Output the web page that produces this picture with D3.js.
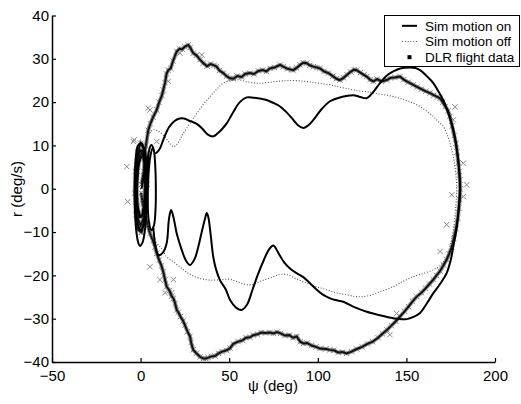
<!DOCTYPE html>
<html>
<head>
<meta charset="utf-8">
<script src="https://d3js.org/d3.v7.min.js"></script>
<style>
  body { margin: 0; background: #fff; }
  text { font-family: "Liberation Sans", Arial, sans-serif; fill: #000; }
</style>
</head>
<body>
<svg id="chart" width="521" height="404"></svg>
<script>
// axis ticks
const xTicks = [-50, 0, 50, 100, 150, 200];
const yTicks = [-40, -30, -20, -10, 0, 10, 20, 30, 40];
const legendLabels = ["Sim motion on", "Sim motion off", "DLR flight data"];

// Sim motion on  [psi (deg), r (deg/s)]
const simOn = [
  [0.5,0],[2,3.5],[2.3,6.5],[1,7.5],[-0.8,6],[-1.8,2],[-2,-2],[-1.2,-5],[0.3,-6.5],[1.8,-5],
  [2.6,-1.5],[2.9,2.5],[2.5,6.5],[1,8.8],[-1,8.3],[-2.5,5],[-3,0],[-2.8,-4.5],[-1.8,-8],[0,-9.5],
  [1.8,-8],[3,-4],[3.3,1],[3,5.5],[2,9],[0.5,10.5],[-1.5,10],[-2.8,6.5],[-3.3,1],[-3.2,-4.5],
  [-2.5,-9.5],[-1.3,-12.5],[-0.3,-13.2],[1,-12.5],[2.3,-10],[3.2,-5],[3.5,0],[3.8,5],[4.6,8.5],[6,10.1],
  [7.4,9],[8.3,5],[8.6,0],[8.4,-5],[7.5,-8.5],[6,-9.5],[4.5,-7],[4,-2],[4.4,3],[5.5,7.5],[7,9.5],[8.1,8.2],
  [10.5,9],[13,11.5],[16,14.2],[19,15.6],[22,16.2],[24.5,16.2],[28,15.6],[31.7,15],[35,13.8],[38,12.5],
  [41,12.1],[43.5,12.8],[46,13.8],[48.6,15.1],[52,17.5],[56,20],[59.9,21.1],[64,21],[68,20.8],[71.2,20.5],
  [75,19.8],[78.7,19],[82,17.8],[86.2,15.9],[89,14.6],[91.8,14],[94.5,14.6],[97.5,15.9],[102,18.3],[106.9,20.2],
  [112,21],[116,21.4],[120,21.6],[124,21.2],[127.6,20.9],[131,22.2],[135.1,24.4],[138.5,26],[142.6,27.1],[147,27.8],
  [152,28],[155,27.9],[157.7,27.4],[161.5,26],[165.2,24.4],[168,22.5],[170.8,20.5],[174,17],[176.5,13.6],[178.3,9.5],
  [179.3,6.7],[180,3],[180.2,0],[179.8,-3],[179.3,-5.6],[178.2,-9.5],[176.5,-13.3],[175,-16.5],[172.7,-19.5],[169,-22],
  [165.2,-24.1],[161.5,-26.5],[157.7,-28.7],[154,-29.6],[150.2,-30.1],[146.5,-30.1],[142.6,-29.9],[135,-29.2],[127.6,-28.4],[120,-27.2],
  [114.4,-26.1],[110,-25.7],[106.9,-25.3],[103.1,-24.5],[99.4,-23.3],[95.6,-21.8],[91.8,-20.4],[88,-19.5],[84.3,-18.4],[81,-17],
  [78,-15],[74.9,-13.1],[72.5,-14],[69.5,-16.5],[66,-20],[63,-23.5],[60,-26.8],[57,-28],[54,-27.5],[50.5,-25.7],
  [48,-23.2],[44.8,-21.1],[42.5,-18.5],[41,-15.7],[39.5,-10.5],[38.2,-6.5],[37.3,-5.6],[36.3,-7],[34.5,-10],[32.5,-13.5],
  [30.5,-16.2],[27.9,-17.6],[25.5,-16.5],[23.2,-14.1],[20.5,-10.5],[18.5,-6.5],[17.2,-4.9],[16,-7],[14.7,-12.6],[12.5,-14.8],
  [10,-15.3],[8.3,-13],[7.2,-9]
];

// Sim motion off
const simOff = [
  [0,0],[2,5],[3.5,10],[5,12.8],[7.2,13.6],[10,13.3],[12.8,12.4],[15.5,11],[18.5,9.7],[21,10.5],
  [24.1,12.8],[28,15.2],[31.7,17.4],[35.5,19.5],[39.2,21.3],[43,23],[46.7,24.4],[52.3,25.1],[56.1,25.1],[60,24.7],
  [65,24.4],[69.2,24.4],[75,24.7],[80,24.9],[85,25],[90,24.9],[95,24.7],[100,24.4],[106.9,24],[112,23.5],
  [118,23],[123,22.6],[127.6,22.4],[133,22],[140,21.5],[146.4,20.9],[151,20.2],[155.8,19.4],[160.5,18.2],[165.2,16.7],
  [168,15.5],[170.8,14.4],[173,12.5],[174.6,10.5],[176.2,8],[177.4,5.1],[178.2,2],[178.4,-0.2],[177.8,-4.5],[176.5,-9.5],
  [174.8,-13],[172.7,-15.7],[169.5,-17.6],[165.2,-18.7],[160,-19.5],[153.9,-20.3],[148,-21.4],[142.6,-22.6],[135,-23.8],[127.6,-24.8],
  [122,-24.9],[116.3,-24.5],[110,-24],[105,-23.3],[99,-22.6],[93.7,-21.8],[88,-20.8],[82.4,-19.8],[78.5,-19.8],[74.9,-20.3],
  [68,-21.3],[61.7,-22.2],[56,-21.7],[50.5,-20.9],[45,-21],[39.2,-21.1],[33.5,-20.7],[28,-19.8],[24.1,-18.7],[19,-17],
  [14.7,-15.7],[11.5,-13.6],[9.1,-12.6],[5.3,-10.3],[3,-7],[1,-3],[0,0]
];

// DLR flight data
const flight = [
  [0.5,1],[1.8,4],[2.2,7],[1,8.5],[-0.5,7.5],[-1.7,4],[-2.2,0],[-1.8,-4],[-0.5,-6.5],[1,-6],
  [2,-3],[2.5,1],[2.3,5],[1.2,8],[-0.5,9],[-2,6.5],[-2.8,2],[-2.6,-3],[-1.5,-7],[0,-8.5],
  [1.5,-7],[2.7,-3],[3,2],[2.7,6],[1.5,9.5],[0,10.5],[-1.8,8.5],[-3,4],[-3.3,-1],[-2.7,-6],
  [-1.3,-9.5],[0.5,-10],[2,-8],[3.3,-4],[3.8,1],[3.5,6],[2.5,9],
  [3,10],[4.3,13.5],[5.5,15],[7,16.5],[9.1,18.2],[10.5,20],[12,21.5],[12.8,22.8],[13.8,24.5],[14.6,26.5],
  [15.6,27.4],[17,27.8],[18.3,29.5],[20.4,31.7],[22,32.3],[23.5,32.2],[25,32.8],[26.9,33.2],[28,32.6],[29.7,31.3],
  [31.5,30.8],[33.5,29.8],[35.4,29],[37.5,28.3],[39.5,28.8],[41.5,28.5],[42.9,28.2],[44.5,27.3],[46.7,26.7],[48.5,26],
  [50.5,25.5],[52.3,25.4],[54.5,26],[57,25.8],[59,26.5],[61.7,26.7],[64,26.5],[66.5,27.2],[69,27.4],[71,27.1],
  [73,27.8],[75.5,28],[78.7,28.6],[80.5,28.2],[83,27.7],[85,27.5],[86.2,27.4],[88,27.9],[90,28.6],[91.8,29.1],
  [93.7,29],[95.5,28.5],[97.5,28.2],[99.5,28],[101.2,27.8],[103.5,27.1],[106,26.7],[108.5,26],[110.5,25.4],[112.5,25.1],
  [114.5,25.6],[116.5,26.3],[118.5,27],[120.5,27.5],[121.9,27.4],[124,26.8],[126,26.3],[127.6,25.9],[129.5,25.2],[131.3,24.8],
  [133.5,25.3],[136,24.8],[138.9,25.1],[141,25.6],[143.5,25.7],[146.4,25.9],[148.5,25.2],[151,24.6],[153.9,24],[156,23.5],
  [158.5,23],[161,22.5],[163.3,22.1],[165.5,21.6],[167.5,21.2],[169,20.9],[170.5,20],[172,19],[173.5,18],[174.6,16.7],
  [175.8,14.5],[177,12.3],[178,10.5],[178.6,8.5],[179.3,6],[179.8,4],[180.2,2],[180.4,0],[180.1,-2.5],[179.6,-4.5],
  [179,-6.8],[178,-9.2],[176.8,-11.5],[175.6,-13.5],[174.2,-15],[172.7,-16.4],[171,-17.6],[169,-19],[167,-20],[165.2,-21],
  [163,-22],[160.8,-23],[158.5,-24],[155.8,-24.9],[153.5,-26],[151.2,-27.2],[149,-28.3],[146.4,-29.5],[144,-30.6],[141.5,-31.6],
  [139,-32.6],[136.5,-33.5],[134,-34.4],[131,-35.3],[128,-35.8],[125,-36.5],[122,-37],[119,-37.6],[116.3,-38],[114,-37.7],
  [111.5,-37.8],[109,-37.3],[106.9,-37.2],[104.5,-37],[101.2,-36.9],[99,-36.5],[96.5,-36.2],[94,-35.6],[92,-35.7],[90,-35.3],
  [88.1,-34.1],[86,-34.4],[84,-33.8],[81.5,-33.9],[79,-33.4],[77,-33.1],[74.9,-33.4],[73,-33.2],[70.5,-33.3],[68,-33.2],
  [66,-33.6],[63.6,-33.8],[61.7,-34.3],[59.5,-34.4],[57.5,-35],[55,-35.3],[52.3,-35.8],[50.5,-36.8],[48.5,-37.3],[46,-37.6],
  [44,-38],[42,-38.6],[40,-38.7],[38.2,-39],[36.8,-39.2],[35.4,-39.2],[33.5,-38.8],[31.5,-38],[29.7,-37.2],[28.5,-35.5],
  [27.9,-34.1],[26.5,-33],[25,-31.5],[24,-30.5],[22.5,-29.5],[21.3,-28.5],[20.4,-28],[19.5,-26.5],[18.5,-25.3],[17.5,-24.8],
  [16.3,-23.5],[14.7,-22.6],[13.8,-21],[12.8,-19.2],[11.8,-17.8],[10.5,-16.5],[9.1,-14.9],[8.2,-13.5],[7,-12],[5.3,-10.3],
  [4,-8.5],[2.5,-6],[1.2,-3.5],[0.3,-1]
];

// stray flight samples off the main track
const flightStray = [
  [-7.8,5.1],[-7.3,-3],[-4.1,10.9],[-3.7,11.3],[5.3,18.2],[4.3,18.6],[9.1,10.9],[15.6,24.8],[22.2,31.3],[34.5,30.9],
  [5.3,-18],[10.9,-21],[13.8,-24],[17.5,-24],[18.5,-21],[0.6,-10.1],
  [177.4,18.9],[176.5,15.9],[182.1,5.9],[184,0.9],[182.1,-1.8],[175.6,-1.4],[172.7,-8.3],[169,-14.5],[144.5,-28.8],[140.7,-33.7]
];

const svg = d3.select("#chart");
const x = d3.scaleLinear().domain([-50, 200]).range([52, 495]);
const y = d3.scaleLinear().domain([-40, 40]).range([362, 15.5]);

const line = d3.line().x(d => x(d[0])).y(d => y(d[1]));

// flight data: gray crosses with dark core
const cross = "M-2.7,-2.7L2.7,2.7M-2.7,2.7L2.7,-2.7";
svg.append("path")
  .datum(flight)
  .attr("d", line)
  .attr("fill", "none")
  .attr("stroke", "#9a9a9a")
  .attr("stroke-width", 4);

svg.append("g").selectAll("path")
  .data(flight.concat(flightStray))
  .enter().append("path")
  .attr("d", cross)
  .attr("transform", d => `translate(${x(d[0])},${y(d[1])})`)
  .attr("fill", "none")
  .attr("stroke", "#8a8a8a")
  .attr("stroke-width", 1);

svg.append("path")
  .datum(flight)
  .attr("d", line)
  .attr("fill", "none")
  .attr("stroke", "#111")
  .attr("stroke-width", 2);

// sim motion off (dotted)
svg.append("path")
  .datum(simOff)
  .attr("d", line.curve(d3.curveCatmullRom))
  .attr("fill", "none")
  .attr("stroke", "#555")
  .attr("stroke-width", 1.1)
  .attr("stroke-dasharray", "1,1.8");

// sim motion on (solid)
svg.append("path")
  .datum(simOn)
  .attr("d", line.curve(d3.curveCatmullRom))
  .attr("fill", "none")
  .attr("stroke", "#000")
  .attr("stroke-width", 2);

// axes
const xAxis = d3.axisBottom(x).tickValues(xTicks).tickSizeInner(-4).tickSizeOuter(0).tickPadding(8);
const yAxis = d3.axisLeft(y).tickValues(yTicks).tickSizeInner(-4).tickSizeOuter(0).tickPadding(3);

const gx = svg.append("g").attr("transform", "translate(0,362)").call(xAxis);
const gy = svg.append("g").attr("transform", "translate(52,0)").call(yAxis);
[gx, gy].forEach(g => {
  g.select(".domain").attr("stroke-width", 1.5);
  g.selectAll(".tick line").attr("stroke-width", 1.2);
  g.selectAll("text").style("font-size", "15px").style("font-family", "'Liberation Sans', Arial, sans-serif");
});

svg.append("text")
  .attr("x", 273).attr("y", 391)
  .attr("text-anchor", "middle")
  .style("font-size", "15px")
  .text("ψ (deg)");

svg.append("text")
  .attr("transform", "translate(22,189) rotate(-90)")
  .attr("text-anchor", "middle")
  .style("font-size", "15px")
  .text("r (deg/s)");

// legend
const lg = svg.append("g");
lg.append("rect")
  .attr("x", 384.5).attr("y", 15.5)
  .attr("width", 135).attr("height", 51)
  .attr("fill", "#fff").attr("stroke", "#000").attr("stroke-width", 1);

const rowY = d3.scaleBand().domain(legendLabels).range([18, 65]);
legendLabels.forEach((lab, i) => {
  const cy = rowY(lab) + rowY.bandwidth() / 2;
  if (i === 0) {
    lg.append("line").attr("x1", 402).attr("x2", 417).attr("y1", cy).attr("y2", cy)
      .attr("stroke", "#000").attr("stroke-width", 2);
  } else if (i === 1) {
    lg.append("line").attr("x1", 402).attr("x2", 417).attr("y1", cy).attr("y2", cy)
      .attr("stroke", "#555").attr("stroke-width", 1.1).attr("stroke-dasharray", "1,1.8");
  } else {
    lg.append("rect").attr("x", 407.5).attr("y", cy - 2).attr("width", 4).attr("height", 4).attr("fill", "#000");
  }
  lg.append("text")
    .attr("x", 425).attr("y", cy).attr("dy", "0.35em")
    .style("font-size", "13.5px")
    .text(lab);
});
</script>
</body>
</html>
